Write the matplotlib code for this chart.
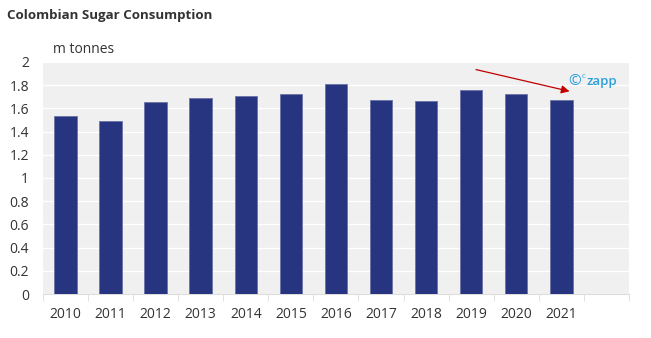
import numpy as np
import matplotlib.pyplot as plt

# Data
years = ['2010', '2011', '2012', '2013', '2014', '2015', '2016',
         '2017', '2018', '2019', '2020', '2021']
consumption = [1.53, 1.49, 1.65, 1.69, 1.71, 1.72, 1.81,
               1.67, 1.665, 1.76, 1.72, 1.67]
yticks = [0, 0.2, 0.4, 0.6, 0.8, 1, 1.2, 1.4, 1.6, 1.8, 2]

plt.rcParams['font.family'] = ['Open Sans', 'DejaVu Sans']

fig = plt.figure(figsize=(6.51, 3.38), dpi=100)
ax = fig.add_axes([0.066, 0.130, 0.900, 0.687])
ax.set_facecolor('#f0f0f0')

x = np.arange(len(years))
ax.bar(x, consumption, width=0.5, color='#27347f', edgecolor='#6b74a8',
       linewidth=0.6, zorder=3)

ax.set_xlim(-0.5, len(years) + 0.5)
ax.set_ylim(0, 2)
ax.set_yticks(yticks)
ax.set_yticklabels([f'{v:g}' for v in yticks], fontsize=10, color='#333333')
ax.set_xticks(x)
ax.set_xticklabels(years, fontsize=10, color='#333333')
ax.set_xticks(np.arange(-0.5, len(years) + 1, 1), minor=True)
ax.tick_params(axis='x', which='major', length=0, pad=9)
ax.tick_params(axis='x', which='minor', length=5, color='#dddddd')
ax.tick_params(axis='y', length=0, pad=10)

ax.grid(axis='y', color='white', linewidth=1.0, zorder=1)
for s in ['top', 'right', 'left']:
    ax.spines[s].set_visible(False)
ax.spines['bottom'].set_color('#dddddd')

fig.text(0.011, 0.955, 'Colombian Sugar Consumption', fontsize=9.6,
         fontweight='bold', color='#333333', va='center')
fig.text(0.081, 0.853, 'm tonnes', fontsize=10, color='#333333', va='center')

# czapp mark with arrow
fig.text(0.873, 0.760, '\u00a9', fontsize=11, color='#2e9fd8', va='center')
fig.text(0.894, 0.775, 'c', fontsize=5.5, color='#2e9fd8', va='center')
fig.text(0.901, 0.758, 'zapp', fontsize=9.5, color='#2e9fd8',
         fontweight='semibold', va='center')
ax.annotate('', xy=(0.879, 0.728), xytext=(0.727, 0.796),
            xycoords='figure fraction', textcoords='figure fraction',
            arrowprops=dict(arrowstyle='-|>', color='#c00000', lw=0.9,
                            mutation_scale=12))

fig.savefig('out.png', dpi=100)
